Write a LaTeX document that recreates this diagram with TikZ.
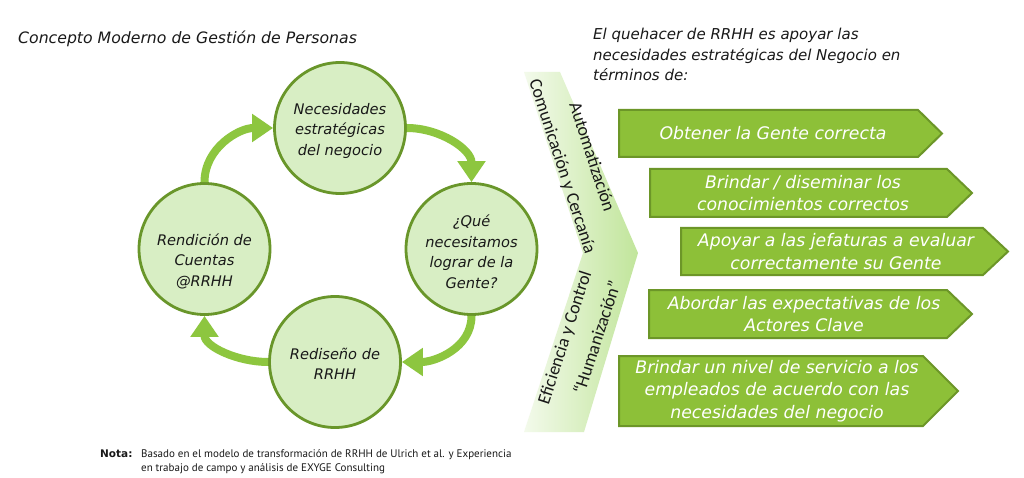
\documentclass[tikz,border=0pt]{standalone}
\usepackage{fontspec}
\setmainfont{DejaVu Sans}
\newfontfamily\bandfont{Carlito}
\newfontfamily\notefont{PT Sans}
\usetikzlibrary{arrows.meta}
\definecolor{boxgreen}{RGB}{141,192,56}
\definecolor{boxedge}{RGB}{108,150,40}
\definecolor{arrgreen}{RGB}{141,198,63}
\definecolor{circfill}{RGB}{216,238,196}
\definecolor{circedge}{RGB}{105,150,42}
\definecolor{txt}{RGB}{25,25,25}
\definecolor{bandlight}{RGB}{243,250,235}
\definecolor{banddark}{RGB}{193,229,155}
\tikzset{
  circ/.style={circle, draw=circedge, fill=circfill, line width=2.8pt, minimum size=131pt, inner sep=0pt},
  ctext/.style={align=center, text=txt, font=\fontsize{14.6}{20.5}\selectfont\itshape},
  cyc/.style={line width=8pt, draw=arrgreen, -{Triangle[length=21pt,width=27pt]}},
  rbox/.style={fill=boxgreen, draw=boxedge, line width=2pt, line join=miter},
  rtext/.style={align=center, text=white, font=\fontsize{17.3}{22.5}\selectfont\itshape},
  bandtext/.style={text=txt, align=center, font=\bandfont\fontsize{18}{31}\selectfont, inner sep=0pt},
  headtext/.style={text=txt, font=\fontsize{15}{20.5}\selectfont\itshape, inner sep=0pt},
  notestyle/.style={text=txt, inner sep=0pt, font=\notefont\fontsize{11}{14}\selectfont},
}
\begin{document}
\begin{tikzpicture}[x=1pt,y=-1pt]
\useasboundingbox (0,0) rectangle (1024,478);
\fill[white] (0,0) rectangle (1024,478);

% title
\node[headtext, anchor=base west, font=\fontsize{15.7}{20}\selectfont\itshape] (title) at (18,44) {Concepto Moderno de Gestión de Personas};

% cycle circles
\node[circ] (n1) at (340,128) {};
\node[circ] (n2) at (471.5,249) {};
\node[circ] (n3) at (335,362) {};
\node[circ] (n4) at (204.5,249) {};
\node[ctext] (c1) at (340,130.5) {Necesidades\\estratégicas\\del negocio};
\node[ctext] (c2) at (471.5,252) {¿Qué\\necesitamos\\lograr de la\\Gente?};
\node[ctext] (c3) at (335,364) {Rediseño de\\RRHH};
\node[ctext] (c4) at (204.5,261) {Rendición de\\Cuentas\\@RRHH};

% cycle arrows
\draw[cyc] (n4.north) to[out=90,in=180] (n1.west);
\draw[cyc] (n1.east) to[out=0,in=90] (n2.north);
\draw[cyc] (n2.south) to[out=-90,in=0] (n3.east);
\draw[cyc] (n3.west) to[out=180,in=-90] (n4.south);

% chevron band
\shade[left color=bandlight, right color=banddark]
  (524,72) -- (560,72) -- (638,253) -- (584,432) -- (524,432) -- (583,253) -- cycle;
\node[bandtext, rotate=-72] (tup) at (576.5,162) {Automatización\\Comunicación y Cercanía};
\node[bandtext, rotate=72] (tdown) at (579,342) {Eficiencia y Control\\\hspace*{20pt}“Humanización”};

% header on the right
\node[headtext, anchor=base west] (h1) at (593,40) {El quehacer de RRHH es apoyar las};
\node[headtext, anchor=base west] (h2) at (593,60.5) {necesidades estratégicas del Negocio en};
\node[headtext, anchor=base west] (h3) at (593,81) {términos de:};

% right arrows
\path[rbox] (619,110) -- (918,110) -- (942,133.5) -- (918,157) -- (619,157) -- cycle;
\node[rtext] (r1) at (773,133.5) {Obtener la Gente correcta};
\path[rbox] (650,169) -- (947,169) -- (972,193) -- (947,217) -- (650,217) -- cycle;
\node[rtext] (r2) at (803,193) {Brindar / diseminar los\\conocimientos correctos};
\path[rbox] (681,228) -- (983,228) -- (1008,251.5) -- (983,275) -- (681,275) -- cycle;
\node[rtext] (r3) at (836,251.5) {Apoyar a las jefaturas a evaluar\\correctamente su Gente};
\path[rbox] (649,290) -- (947,290) -- (972,314) -- (947,338) -- (649,338) -- cycle;
\node[rtext] (r4) at (804,314) {Abordar las expectativas de los\\Actores Clave};
\path[rbox] (619,356) -- (923,356) -- (958,391) -- (923,426) -- (619,426) -- cycle;
\node[rtext] (r5) at (777,391) {Brindar un nivel de servicio a los\\empleados de acuerdo con las\\necesidades del negocio};

% note
\node[notestyle, anchor=base west, font=\fontsize{10.5}{14}\selectfont\bfseries] (nota) at (100,457) {Nota:};
\node[notestyle, anchor=base west] (notetext) at (141,457) {Basado en el modelo de transformación de RRHH de Ulrich et al. y Experiencia};
\node[notestyle, anchor=base west] (notetext2) at (141,471) {en trabajo de campo y análisis de EXYGE Consulting};
\end{tikzpicture}
\end{document}
